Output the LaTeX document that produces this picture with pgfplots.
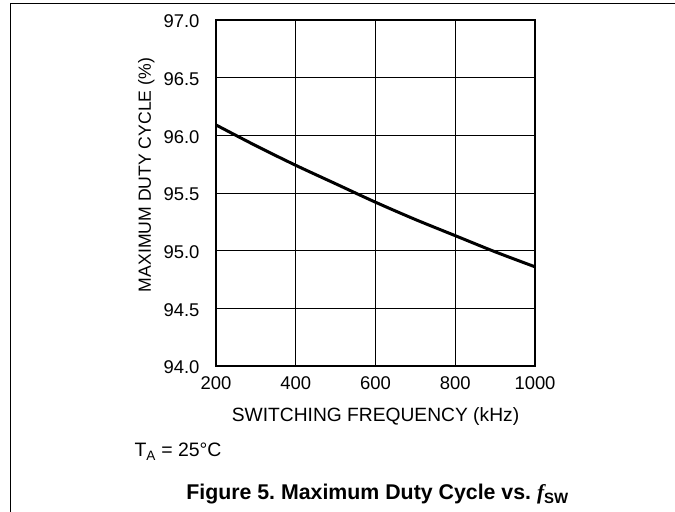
\documentclass[border=0pt]{standalone}
\usepackage{pgfplots}
\pgfplotsset{compat=1.18}
\usepackage{fontspec}
\setmainfont{Liberation Sans}
\newfontfamily\timesfont{Liberation Serif}
\frenchspacing
\begin{document}
\begin{tikzpicture}[x=1bp,y=1bp]
\path[use as bounding box] (0,0) rectangle (675,512);
\draw[line width=1bp] (10.5,0) -- (10.5,508.5) -- (675,508.5);
\begin{axis}[
  at={(216bp,146bp)}, anchor=south west,
  scale only axis, width=319bp, height=346bp,
  xmin=200, xmax=1000, ymin=94, ymax=97,
  xtick={200,400,600,800,1000},
  ytick={94,94.5,95,95.5,96,96.5,97},
  grid=major,
  grid style={black, line width=0.9bp},
  axis line style={line width=1.3bp},
  major tick length=0pt,
  /pgf/number format/assume math mode=true,
  /pgf/number format/set thousands separator={},
  ticklabel style={font=\fontsize{18.5}{21}\selectfont},
  xticklabel style={yshift=-7.5bp},
  yticklabel style={xshift=-13bp, yshift=-1.5bp, /pgf/number format/.cd, fixed, fixed zerofill, precision=1},
  xlabel={SWITCHING FREQUENCY (kHz)},
  xlabel style={font=\fontsize{19.3}{22}\selectfont, at={(axis description cs:0.5,0)}, anchor=base, yshift=-55.5bp},
  ylabel={MAXIMUM DUTY CYCLE (\%)},
  ylabel style={font=\fontsize{17.7}{20}\selectfont, at={(axis description cs:-0.204,0.552)}, anchor=base},
]
\addplot[black, line width=3bp, smooth] coordinates {
  (200,96.09) (300,95.91) (400,95.74) (500,95.58) (600,95.42)
  (700,95.27) (800,95.13) (900,94.99) (1000,94.86)
};
\end{axis}
\node[anchor=base west, font=\fontsize{19.5}{22}\selectfont] at (131,55) {T\textsubscript{A} = 25°C};
\node[anchor=base, font=\fontsize{21.4}{24}\selectfont\bfseries] at (377.5,12) {Figure 5. Maximum Duty Cycle vs. {\timesfont\itshape f}\textsubscript{SW}};
\end{tikzpicture}
\end{document}
